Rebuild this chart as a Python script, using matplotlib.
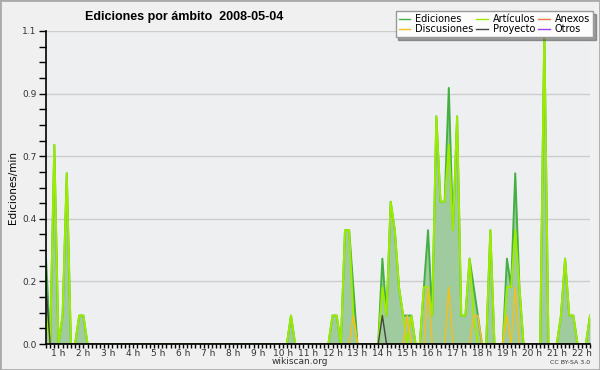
import matplotlib
matplotlib.use('Agg')
import matplotlib.pyplot as plt
import numpy as np
from matplotlib.ticker import FixedLocator, MultipleLocator, FuncFormatter
from matplotlib.patches import Rectangle

# --- data: edits per minute, one value per 10-minute slot, starting 00:30 ---
start_hour = 0.5
step_hours = 1 / 6

ediciones = [
    0.3, 0, 0.7, 0, 0.1, 0.6, 0, 0, 0.1, 0.1, 0, 0,
    0, 0, 0, 0, 0, 0, 0, 0, 0, 0, 0, 0,
    0, 0, 0, 0, 0, 0, 0, 0, 0, 0, 0, 0,
    0, 0, 0, 0, 0, 0, 0, 0, 0, 0, 0, 0,
    0, 0, 0, 0, 0, 0, 0, 0, 0, 0, 0, 0.1,
    0, 0, 0, 0, 0, 0, 0, 0, 0, 0.1, 0.1, 0,
    0.4, 0.4, 0.2, 0, 0, 0, 0, 0, 0, 0.3, 0.1, 0.5,
    0.4, 0.2, 0.1, 0.1, 0.1, 0, 0, 0.2, 0.4, 0.1, 0.8, 0.5,
    0.5, 0.9, 0.4, 0.8, 0.1, 0.1, 0.3, 0.2, 0.1, 0, 0, 0.4,
    0, 0, 0, 0.3, 0.2, 0.6, 0.2, 0, 0, 0, 0, 0,
    1.1, 0, 0, 0, 0.1, 0.3, 0.1, 0.1, 0, 0, 0, 0.1,
]
articulos = [
    0.1, 0, 0.7, 0, 0.1, 0.6, 0, 0, 0.1, 0.1, 0, 0,
    0, 0, 0, 0, 0, 0, 0, 0, 0, 0, 0, 0,
    0, 0, 0, 0, 0, 0, 0, 0, 0, 0, 0, 0,
    0, 0, 0, 0, 0, 0, 0, 0, 0, 0, 0, 0,
    0, 0, 0, 0, 0, 0, 0, 0, 0, 0, 0, 0.1,
    0, 0, 0, 0, 0, 0, 0, 0, 0, 0.1, 0.1, 0,
    0.4, 0.4, 0.1, 0, 0, 0, 0, 0, 0, 0.2, 0.1, 0.5,
    0.4, 0.2, 0.1, 0, 0.1, 0, 0, 0.2, 0.2, 0.1, 0.8, 0.5,
    0.5, 0.7, 0.4, 0.8, 0.1, 0.1, 0.3, 0.1, 0, 0, 0, 0.4,
    0, 0, 0, 0.2, 0.2, 0.4, 0.2, 0, 0, 0, 0, 0,
    1.1, 0, 0, 0, 0.1, 0.3, 0.1, 0.1, 0, 0, 0, 0.1,
]
discusiones = [
    0, 0, 0, 0, 0, 0, 0, 0, 0, 0, 0, 0,
    0, 0, 0, 0, 0, 0, 0, 0, 0, 0, 0, 0,
    0, 0, 0, 0, 0, 0, 0, 0, 0, 0, 0, 0,
    0, 0, 0, 0, 0, 0, 0, 0, 0, 0, 0, 0,
    0, 0, 0, 0, 0, 0, 0, 0, 0, 0, 0, 0,
    0, 0, 0, 0, 0, 0, 0, 0, 0, 0, 0, 0,
    0, 0, 0.1, 0, 0, 0, 0, 0, 0, 0, 0, 0,
    0, 0, 0, 0.1, 0, 0, 0, 0, 0.2, 0, 0, 0,
    0, 0.2, 0, 0, 0, 0, 0, 0.1, 0.1, 0, 0, 0,
    0, 0, 0, 0.1, 0, 0.2, 0, 0, 0, 0, 0, 0,
    0, 0, 0, 0, 0, 0, 0, 0, 0, 0, 0, 0,
]
proyecto = [
    0.2, 0, 0, 0, 0, 0, 0, 0, 0, 0, 0, 0,
    0, 0, 0, 0, 0, 0, 0, 0, 0, 0, 0, 0,
    0, 0, 0, 0, 0, 0, 0, 0, 0, 0, 0, 0,
    0, 0, 0, 0, 0, 0, 0, 0, 0, 0, 0, 0,
    0, 0, 0, 0, 0, 0, 0, 0, 0, 0, 0, 0,
    0, 0, 0, 0, 0, 0, 0, 0, 0, 0, 0, 0,
    0, 0, 0, 0, 0, 0, 0, 0, 0, 0.1, 0, 0,
    0, 0, 0, 0, 0, 0, 0, 0, 0, 0, 0, 0,
    0, 0, 0, 0, 0, 0, 0, 0, 0, 0, 0, 0,
    0, 0, 0, 0, 0, 0, 0, 0, 0, 0, 0, 0,
    0, 0, 0, 0, 0, 0, 0, 0, 0, 0, 0, 0,
]
anexos = [0] * 132
otros = [0] * 132

hour_ticks = list(range(1, 23))
hour_labels = [f"{h} h" for h in hour_ticks]
y_ticks = [0.0, 0.22, 0.44, 0.66, 0.88, 1.1]

t = start_hour + step_hours * np.arange(len(ediciones))

fig = plt.figure(figsize=(6, 3.7), dpi=100, facecolor='#f0f0f0')
ax = fig.add_axes([46 / 600, 1 - 344 / 370, 544 / 600, 313 / 370])
ax.set_facecolor('#eeeff1')

ax.fill_between(t, 0, ediciones, color='#9fcb9f', lw=0, zorder=2)
l_an, = ax.plot(t, anexos, color='#ee7744', lw=1.0, zorder=1)
l_ot, = ax.plot(t, otros, color='#9944ee', lw=1.0, zorder=1)
l_ed, = ax.plot(t, ediciones, color='#44b044', lw=1.4, zorder=3)
l_ar, = ax.plot(t, articulos, color='#9cec00', lw=1.4, zorder=4)
l_di, = ax.plot(t, discusiones, color='#f0c020', lw=1.1, zorder=5)
l_pr, = ax.plot(t, proyecto, color='#444444', lw=1.0, zorder=6)

ax.set_xlim(t[0], t[-1])
ax.set_ylim(0, 1.1)
ax.xaxis.set_major_locator(FixedLocator(hour_ticks))
ax.set_xticklabels(hour_labels)
ax.xaxis.set_minor_locator(MultipleLocator(step_hours))
ax.yaxis.set_major_locator(FixedLocator(y_ticks))
ax.yaxis.set_major_formatter(FuncFormatter(lambda v, p: f"{v:.1f}"))
ax.yaxis.set_minor_locator(MultipleLocator(0.055))

ax.tick_params(axis='both', which='both', direction='out', color='black',
               labelsize=6.5, labelcolor='#333333')
ax.tick_params(axis='x', which='both', length=3, width=1, pad=0.5)
ax.tick_params(axis='y', which='both', length=5, width=1, pad=2)

for s in ['top', 'right']:
    ax.spines[s].set_visible(False)
for s in ['left', 'bottom']:
    ax.spines[s].set_linewidth(1.2)
    ax.spines[s].set_zorder(7)

ax.grid(axis='y', which='major', color='#cccccc', lw=1)
ax.set_axisbelow(True)

ax.set_ylabel('Ediciones/min', fontsize=7.5)
ax.yaxis.set_label_coords(-0.052, 0.5)

fig.text(85 / 600, 1 - 17 / 370, 'Ediciones por ámbito  2008-05-04',
         fontsize=9, fontweight='bold', va='center', ha='left',
         family=['Liberation Sans', 'DejaVu Sans'])
fig.text(300 / 600, 1 - 362 / 370, 'wikiscan.org', fontsize=6.5,
         ha='center', va='center', color='#333333')
fig.text(590 / 600, 1 - 362 / 370, 'CC BY-SA 3.0', fontsize=4.5,
         ha='right', va='center', color='#333333')

handles = [l_ed, l_di, l_ar, l_pr, l_an, l_ot]
labels = ['Ediciones', 'Discusiones', 'Artículos', 'Proyecto', 'Anexos', 'Otros']
leg = fig.legend(handles, labels, loc='upper right',
                 bbox_to_anchor=(593 / 600, 1 - 11 / 370), ncol=3,
                 fontsize=7, frameon=True, fancybox=False, shadow=True,
                 borderpad=0.3, labelspacing=0.05, handlelength=1.2,
                 handletextpad=0.5, columnspacing=0.3, borderaxespad=0)
leg.get_frame().set_facecolor('#fcfcfc')
leg.get_frame().set_edgecolor('#999999')
leg.get_frame().set_alpha(1)
for h in leg.legend_handles:
    h.set_linewidth(1.0)

fig.patches.append(Rectangle((0, 0), 1, 1, transform=fig.transFigure,
                             fill=False, edgecolor='#aaaaaa', lw=2))

fig.savefig('out.png', dpi=100, facecolor=fig.get_facecolor())
